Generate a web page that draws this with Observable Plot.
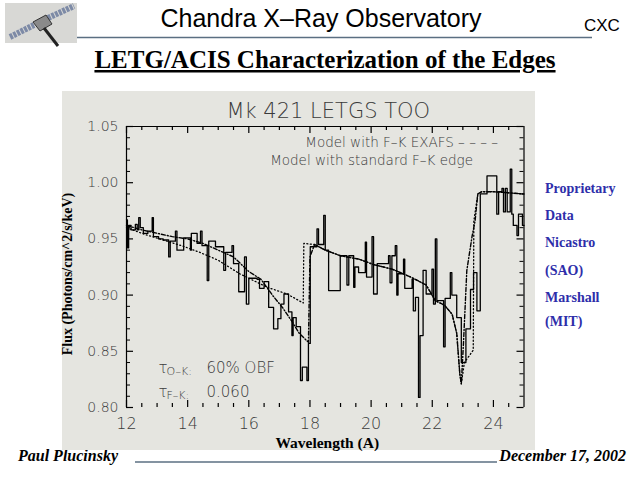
<!DOCTYPE html>
<html>
<head>
<meta charset="utf-8">
<script src="https://cdn.jsdelivr.net/npm/d3@7"></script>
<script src="https://cdn.jsdelivr.net/npm/@observablehq/plot@0.6"></script>
<style>
  html, body { margin: 0; padding: 0; background: #fff; }
  #page { position: relative; width: 640px; height: 480px; overflow: hidden; background: #fff; }
  #deco { position: absolute; left: 0; top: 0; }
  #chart { position: absolute; left: 62px; top: 91px; }
  #chart svg { display: block; }
</style>
</head>
<body>
<div id="page">
  <svg id="deco" width="640" height="480" xmlns="http://www.w3.org/2000/svg">
    <!-- satellite thumbnail -->
    <rect x="5" y="3" width="72" height="40" fill="#d8d8d5"/>
    <line x1="10" y1="37" x2="34" y2="25" stroke="#7d8aa6" stroke-width="6" stroke-dasharray="3,1"/>
    <line x1="48" y1="18" x2="74" y2="6" stroke="#7d8aa6" stroke-width="6" stroke-dasharray="3,1"/>
    <polygon points="33,22 46,15 52,24 40,31" fill="#8a8a8a" stroke="#333" stroke-width="1"/>
    <line x1="44" y1="28" x2="58" y2="46" stroke="#222" stroke-width="3"/>
    <text x="321" y="27" text-anchor="middle" font-family="Liberation Sans, Arial, sans-serif" font-size="25" fill="#000">Chandra X–Ray Observatory</text>
    <text x="584" y="31" font-family="Liberation Sans, Arial, sans-serif" font-size="17" fill="#000">CXC</text>
    <line x1="77" y1="37.5" x2="592" y2="37.5" stroke="#5b6f82" stroke-width="1.5"/>
    <text x="325" y="68" text-anchor="middle" font-family="Liberation Serif, Times New Roman, serif" font-weight="bold" font-size="25" text-decoration="underline" fill="#000">LETG/ACIS Characterization of the Edges</text>
    <g font-family="Liberation Serif, Times New Roman, serif" font-weight="bold" font-size="14" fill="#2e2eaa">
      <text x="545" y="193">Proprietary</text>
      <text x="545" y="220">Data</text>
      <text x="545" y="247">Nicastro</text>
      <text x="545" y="275">(SAO)</text>
      <text x="545" y="302">Marshall</text>
      <text x="545" y="326">(MIT)</text>
    </g>
    <g font-family="Liberation Serif, Times New Roman, serif" font-weight="bold" font-style="italic" font-size="16" fill="#000">
      <text x="18" y="461">Paul Plucinsky</text>
      <text x="626" y="461" text-anchor="end">December 17, 2002</text>
    </g>
    <line x1="135" y1="462" x2="497" y2="462" stroke="#5b6f82" stroke-width="1.5"/>
  </svg>
  <div id="chart"></div>
</div>
<script>
// ---------- data ----------
const plotTitle = "Mk 421 LETGS TOO";
const xLabel = "Wavelength (A)";
const yLabel = "Flux (Photons/cm^2/s/keV)";
const legendExafs = "Model with F–K EXAFS – – – –";
const legendStandard = "Model with standard F–K edge";
const annoSymbol = "τ";
const annoEdges = ["O–K:", "F–K:"];
const annoValues = ["60% OBF", "0.060"];

const xDomain = [12, 25];
const yDomain = [0.80, 1.05];
const xTicks = [12, 14, 16, 18, 20, 22, 24];
const xMinorTicks = [12.5, 13, 13.5, 14.5, 15, 15.5, 16.5, 17, 17.5, 18.5, 19, 19.5, 20.5, 21, 21.5, 22.5, 23, 23.5, 24.5];
const yTicks = [0.80, 0.85, 0.90, 0.95, 1.00, 1.05];
const yMinorTicks = [0.81, 0.82, 0.83, 0.84, 0.86, 0.87, 0.88, 0.89, 0.91, 0.92, 0.93, 0.94, 0.96, 0.97, 0.98, 0.99, 1.01, 1.02, 1.03, 1.04];

// observed spectrum (histogram bins: start wavelength, flux)
const dataWavelength = [
  12.00, 12.03, 12.07, 12.15, 12.29, 12.35, 12.40, 12.45, 12.55, 12.70,
  12.84, 12.88, 13.05, 13.20, 13.38, 13.43, 13.60, 13.65, 13.87, 14.09,
  14.12, 14.31, 14.42, 14.47, 14.64, 14.69, 14.91, 15.18, 15.24, 15.45,
  15.50, 15.67, 15.86, 15.92, 16.00, 16.27, 16.35, 16.50, 16.65, 16.81,
  16.95, 17.05, 17.15, 17.30, 17.41, 17.45, 17.55, 17.69, 17.75, 17.90,
  17.95, 18.01, 18.23, 18.28, 18.45, 18.50, 18.61, 18.99, 19.21, 19.27,
  19.43, 19.47, 19.59, 19.81, 19.85, 20.03, 20.08, 20.20, 20.57, 20.62,
  20.68, 20.79, 20.84, 20.88, 21.06, 21.10, 21.34, 21.38, 21.45, 21.55,
  21.60, 21.70, 21.80, 21.99, 22.04, 22.10, 22.15, 22.37, 22.42, 22.59,
  22.64, 22.80, 22.95, 23.10, 23.25, 23.35, 23.46, 23.57, 23.79, 24.11,
  24.17, 24.28, 24.33, 24.39, 24.45, 24.55, 24.60, 24.65, 24.77, 24.82,
  24.95, 25.00
];
const dataFlux = [
  0.967, 0.942, 0.962, 0.958, 0.963, 0.958, 0.969, 0.960, 0.955, 0.957,
  0.969, 0.952, 0.950, 0.949, 0.934, 0.948, 0.957, 0.940, 0.951, 0.940,
  0.955, 0.946, 0.957, 0.944, 0.913, 0.948, 0.943, 0.922, 0.938, 0.944,
  0.928, 0.903, 0.934, 0.892, 0.915, 0.914, 0.906, 0.912, 0.889, 0.870,
  0.879, 0.892, 0.901, 0.885, 0.864, 0.880, 0.872, 0.824, 0.836, 0.824,
  0.857, 0.943, 0.959, 0.945, 0.971, 0.940, 0.904, 0.935, 0.909, 0.935,
  0.907, 0.925, 0.920, 0.947, 0.916, 0.952, 0.901, 0.928, 0.935, 0.911,
  0.935, 0.944, 0.900, 0.919, 0.932, 0.906, 0.914, 0.886, 0.898, 0.809,
  0.864, 0.922, 0.901, 0.923, 0.892, 0.950, 0.895, 0.854, 0.897, 0.920,
  0.900, 0.880, 0.840, 0.870, 0.905, 0.920, 0.886, 0.990, 1.006, 0.972,
  0.992, 0.995, 0.974, 0.995, 0.974, 1.012, 0.972, 0.962, 0.953, 0.972,
  0.962, 0.962
];

// model with F-K EXAFS (dashed)
const exafsWavelength = [12.0, 12.5, 13.0, 13.5, 14.0, 14.5, 15.0, 15.5, 16.0, 16.4, 16.8, 17.1, 17.4, 17.65, 17.95, 18.0, 18.15, 18.5, 19.0, 19.6, 20.1, 20.7, 21.3, 21.8, 22.1, 22.4, 22.65, 22.8, 22.9, 22.95, 23.02, 23.13, 23.3, 23.4, 23.49, 23.62, 24.0, 24.5, 25.0];
const exafsFlux = [0.962, 0.958, 0.955, 0.952, 0.950, 0.946, 0.940, 0.934, 0.921, 0.914, 0.899, 0.889, 0.877, 0.866, 0.858, 0.934, 0.945, 0.940, 0.935, 0.932, 0.927, 0.923, 0.916, 0.909, 0.895, 0.891, 0.883, 0.866, 0.830, 0.821, 0.857, 0.922, 0.952, 0.966, 0.990, 0.992, 0.992, 0.991, 0.990];

// model with standard F-K edge (dotted)
const stdWavelength = [12.0, 12.6, 13.2, 13.8, 14.4, 15.0, 15.7, 16.6, 17.25, 17.78, 17.80, 18.15, 18.5, 19.0, 19.6, 20.1, 20.7, 21.3, 21.8, 22.1, 22.4, 22.65, 22.8, 22.9, 22.95, 23.05, 23.34, 23.36, 23.49, 23.62, 24.0, 24.5, 25.0];
const stdFlux = [0.960, 0.954, 0.949, 0.944, 0.938, 0.931, 0.919, 0.907, 0.901, 0.893, 0.946, 0.945, 0.940, 0.935, 0.932, 0.927, 0.923, 0.916, 0.909, 0.895, 0.891, 0.883, 0.866, 0.830, 0.821, 0.840, 0.851, 0.966, 0.990, 0.992, 0.992, 0.991, 0.990];

// ---------- build ----------
const dataRows = dataWavelength.map((w, i) => ({w, f: dataFlux[i]}));
const exafsRows = exafsWavelength.map((w, i) => ({w, f: exafsFlux[i]}));
const stdRows = stdWavelength.map((w, i) => ({w, f: stdFlux[i]}));

const W = 473, H = 359;
const mL = 64, mR = 11.5, mT = 35, mB = 43;
const innerW = W - mL - mR, innerH = H - mT - mB;
const majorLen = 7, minorLen = 4;
const thin = {fontFamily: "DejaVu Sans, sans-serif", fontWeight: 200, fill: "#3a3a3a"};
const serifBold = {fontFamily: "Liberation Serif, Times New Roman, serif", fontWeight: "bold", fill: "#000"};

const marks = [
  // frame (left, right, top)
  Plot.ruleX(xDomain, {stroke: "#000", strokeWidth: 1.2}),
  Plot.ruleY([yDomain[1]], {stroke: "#000", strokeWidth: 1.2}),
  // inward ticks
  Plot.tickX(xTicks, {x: d => d, insetTop: innerH - majorLen, strokeWidth: 1.2}),
  Plot.tickX(xTicks, {x: d => d, insetBottom: innerH - majorLen, strokeWidth: 1.2}),
  Plot.tickX(xMinorTicks, {x: d => d, insetTop: innerH - minorLen, strokeWidth: 1.2}),
  Plot.tickX(xMinorTicks, {x: d => d, insetBottom: innerH - minorLen, strokeWidth: 1.2}),
  Plot.tickY(yTicks, {y: d => d, insetRight: innerW - majorLen, strokeWidth: 1.2}),
  Plot.tickY(yTicks, {y: d => d, insetLeft: innerW - majorLen, strokeWidth: 1.2}),
  Plot.tickY(yMinorTicks, {y: d => d, insetRight: innerW - minorLen, strokeWidth: 1}),
  Plot.tickY(yMinorTicks, {y: d => d, insetLeft: innerW - minorLen, strokeWidth: 1}),
  // tick labels
  Plot.axisX({ticks: xTicks, tickSize: 0, tickPadding: 10, fontSize: 16, label: null, ...thin}),
  Plot.axisY({ticks: yTicks, tickSize: 0, tickPadding: 8, fontSize: 14, label: null, tickFormat: d3.format(".2f"), ...thin}),
  // models and data
  Plot.line(stdRows, {x: "w", y: "f", stroke: "#000", strokeWidth: 1.3, strokeDasharray: "1,2.5"}),
  Plot.line(exafsRows, {x: "w", y: "f", stroke: "#000", strokeWidth: 1.4, strokeDasharray: "4,2,1,2"}),
  Plot.line(dataRows, {x: "w", y: "f", curve: "step-after", stroke: "#000", strokeWidth: 1.3}),
  // title & legend
  Plot.text([plotTitle], {text: d => d, frameAnchor: "top", dx: 3, dy: -15, lineAnchor: "middle", fontSize: 21, ...thin}),
  Plot.text([legendExafs], {text: d => d, frameAnchor: "top-right", dx: -26, dy: 16, textAnchor: "end", lineAnchor: "middle", fontSize: 13.5, ...thin}),
  Plot.text([legendStandard], {text: d => d, frameAnchor: "top-right", dx: -51, dy: 34, textAnchor: "end", lineAnchor: "middle", fontSize: 13.5, ...thin}),
  // axis titles
  Plot.text([xLabel], {text: d => d, frameAnchor: "bottom", dx: 2, dy: 36, lineAnchor: "middle", fontSize: 15.5, ...serifBold}),
  Plot.text([yLabel], {text: d => d, frameAnchor: "left", rotate: -90, dx: -59, dy: 7, textAnchor: "middle", lineAnchor: "middle", fontSize: 14, ...serifBold})
];
// annotation lines
annoEdges.forEach((edge, i) => {
  const dyLine = i === 0 ? -39 : -15;
  marks.push(Plot.text([annoSymbol], {text: d => d, frameAnchor: "bottom-left", dx: 32, dy: dyLine, textAnchor: "start", lineAnchor: "middle", fontSize: 15, ...thin}));
  marks.push(Plot.text([edge], {text: d => d, frameAnchor: "bottom-left", dx: 40, dy: dyLine + 3, textAnchor: "start", lineAnchor: "middle", fontSize: 11, ...thin}));
  marks.push(Plot.text([annoValues[i]], {text: d => d, frameAnchor: "bottom-left", dx: 80, dy: dyLine, textAnchor: "start", lineAnchor: "middle", fontSize: 15, ...thin}));
});

const chart = Plot.plot({
  width: W, height: H,
  marginLeft: mL, marginRight: mR, marginTop: mT, marginBottom: mB,
  x: {domain: xDomain},
  y: {domain: yDomain},
  style: {background: "#e5e5e0", overflow: "visible", fontFamily: "DejaVu Sans, sans-serif", color: "#000"},
  marks
});
document.getElementById("chart").appendChild(chart);
</script>
</body>
</html>
